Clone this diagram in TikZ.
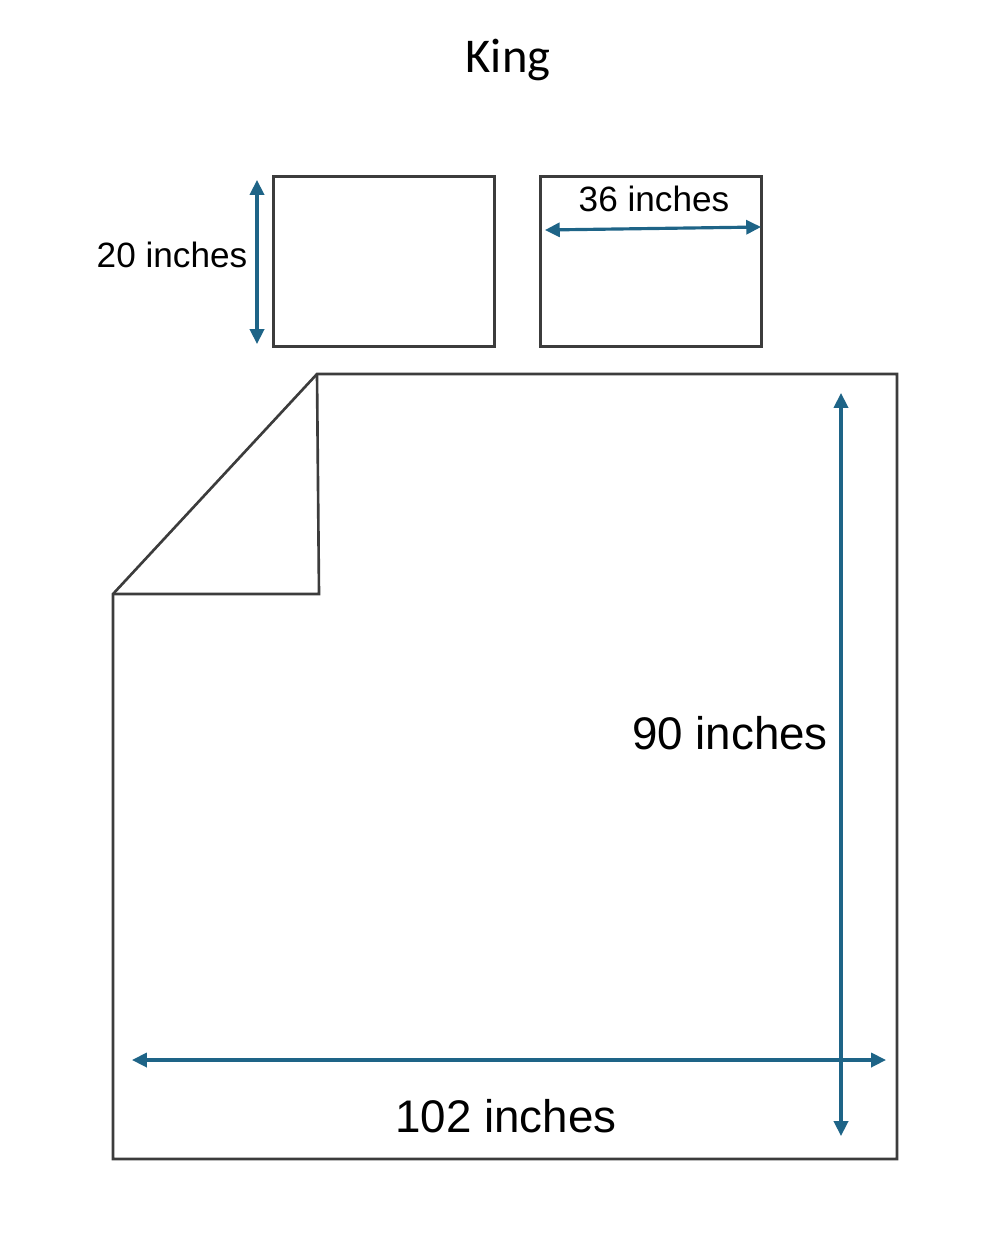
\documentclass[tikz,border=0pt]{standalone}
\usepackage{fontspec}
\setmainfont{Liberation Sans}
\newfontfamily\titlefont{Carlito}
\usetikzlibrary{arrows.meta}
\definecolor{dimblue}{RGB}{30,100,135}
\definecolor{edge}{RGB}{60,60,60}
\tikzset{
  x=0.01cm, y=-0.01cm,
  outline/.style={draw=edge, line width=0.75pt},
  pillow/.style={outline, minimum width=2.21cm, minimum height=1.70cm, inner sep=0pt, anchor=north west},
  dimline/.style={draw=dimblue, line width=0.9pt, {Triangle[length=4.2pt,width=4pt]}-{Triangle[length=4.2pt,width=4pt]}},
  smalllabel/.style={font=\fontsize{10}{12}\selectfont, text=black, inner sep=0pt},
  biglabel/.style={font=\fontsize{13}{15}\selectfont, text=black, inner sep=0pt},
}
\begin{document}
\begin{tikzpicture}
\useasboundingbox (0,0) rectangle (1000,1245);
\node[font=\titlefont\fontsize{13.8}{16}\selectfont, inner sep=0pt] (title) at (508,60) {King};
% pillows
\node[pillow] (p1) at (272,175) {};
\node[pillow] (p2) at (539,175) {};
% pillow dimensions
\coordinate (a1) at (257,180);
\coordinate (a2) at (257,344);
\draw[dimline] (a1) -- (a2);
\node[smalllabel] (l20) at (172,255) {20 inches};
\coordinate (b1) at (545,230);
\coordinate (b2) at (761,227);
\draw[dimline] (b1) -- (b2);
\node[smalllabel] (l36) at (654,199) {36 inches};
% sheet
\coordinate (s1) at (113,594);
\coordinate (s2) at (317,374);
\coordinate (s3) at (897,374);
\coordinate (s4) at (897,1159);
\coordinate (s5) at (113,1159);
\coordinate (f1) at (319,594);
\draw[outline, line join=miter] (s1) -- (s2) -- (s3) -- (s4) -- (s5) -- cycle;
\draw[outline] (s2) -- (f1) -- (s1);
% sheet dimensions
\coordinate (c1) at (841,393);
\coordinate (c2) at (841,1136);
\draw[dimline] (c1) -- (c2);
\node[biglabel] (l90) at (730,733) {90 inches};
\coordinate (d1) at (132,1060);
\coordinate (d2) at (886,1060);
\draw[dimline] (d1) -- (d2);
\node[biglabel] (l102) at (506,1116) {102 inches};
\end{tikzpicture}
\end{document}
